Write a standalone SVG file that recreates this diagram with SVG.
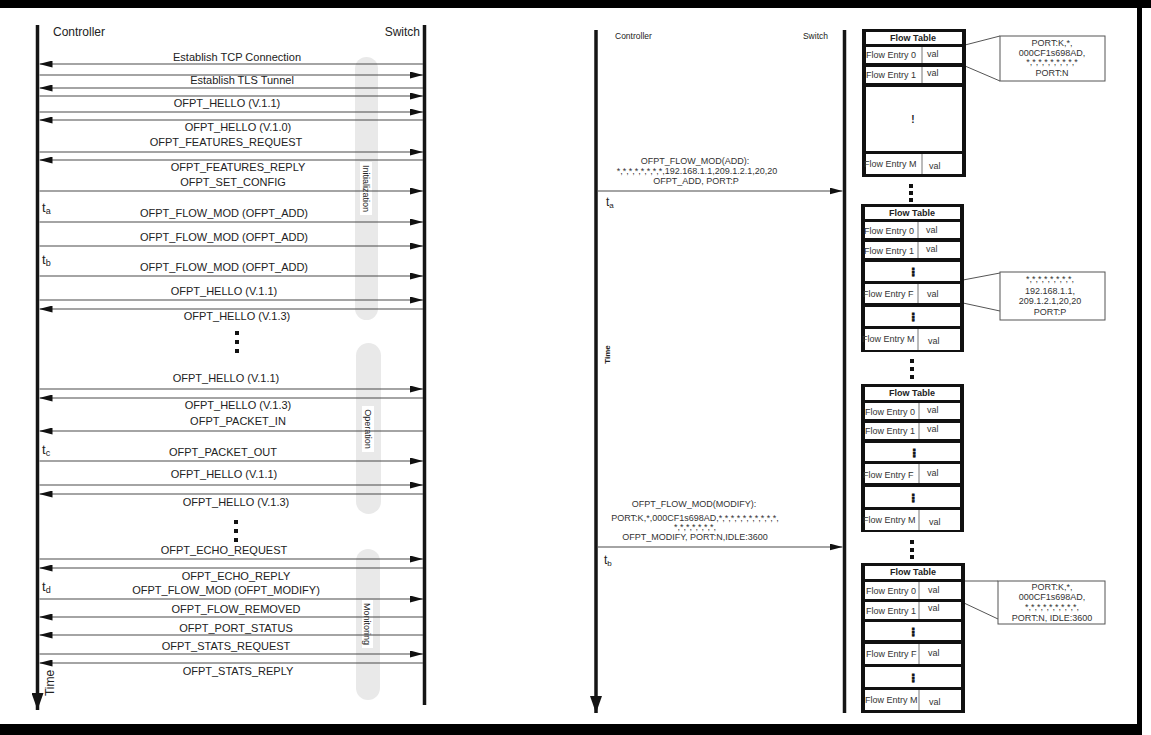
<svg xmlns="http://www.w3.org/2000/svg" width="1151" height="735" viewBox="0 0 1151 735">
<defs>
<style>
.t{font-family:"Liberation Sans",Arial,sans-serif;fill:#222}
.lbl{font-size:11px;text-anchor:middle}
.sm{font-size:9px;text-anchor:middle;fill:#333}
.ent{font-size:9px;fill:#333}
.hd{font-size:9px;font-weight:bold;text-anchor:middle}
.ph{font-size:9px;text-anchor:middle}
.el{font-family:"DejaVu Sans",sans-serif;font-size:11px;font-weight:bold;text-anchor:middle;fill:#111;stroke:#111;stroke-width:0.7}
.msg{stroke:#4a4a4a;stroke-width:1.2;fill:none}
.life{stroke:#151515;stroke-width:3.5;fill:none}
.pill{fill:#e9e9e9}
.cell{fill:#fff}
.div{stroke:#777;stroke-width:1}
.co{fill:#fff;stroke:#555;stroke-width:1}
.col{stroke:#555;stroke-width:1;fill:none}
.dot{fill:#111}
</style>
<marker id="ah" viewBox="0 0 13 7" refX="13" refY="3.5" markerWidth="13" markerHeight="7" markerUnits="userSpaceOnUse" orient="auto"><path d="M0,0 L13,3.5 L0,7 z" fill="#111"/></marker>
<marker id="ahb" viewBox="0 0 12 17" refX="6" refY="17" markerWidth="12" markerHeight="17" markerUnits="userSpaceOnUse" orient="0"><path d="M0,0 L12,0 L6,17 z" fill="#151515"/></marker>
</defs>
<rect width="1151" height="735" fill="#fff"/>
<g id="frame">
<rect x="0" y="0" width="1151" height="8" fill="#000"/>
<rect x="1137" y="0" width="5" height="735" fill="#000"/>
<rect x="0" y="724" width="1142" height="11" fill="#000"/>
</g>

<!-- LEFT PANEL -->
<g id="phases">
<rect class="pill" x="355" y="57" width="23" height="263" rx="11.5"/>
<rect x="360" y="162" width="12" height="53" fill="#fff"/>
<text class="t ph" transform="translate(366,188.5) rotate(90)" y="3">Initialization</text>
<rect class="pill" x="356" y="343" width="25" height="171" rx="12.5"/>
<rect x="362" y="406" width="12" height="46" fill="#fff"/>
<text class="t ph" transform="translate(368,429) rotate(90)" y="3">Operation</text>
<rect class="pill" x="356" y="549" width="24" height="151" rx="12"/>
<rect x="362" y="600" width="11" height="48" fill="#fff"/>
<text class="t ph" transform="translate(367,624) rotate(90)" y="3">Monitoring</text>
</g>
<g id="left-controller">
<line class="life" x1="37.5" y1="25" x2="37.5" y2="710" marker-end="url(#ahb)"/>
<text class="t" x="53" y="36" font-size="12">Controller</text>
<text class="t" transform="translate(50,683) rotate(-90)" y="4" font-size="12" text-anchor="middle">Time</text>
<text class="t" x="42" y="212" font-size="13">t<tspan font-size="9" dy="2">a</tspan></text>
<text class="t" x="42" y="264" font-size="13">t<tspan font-size="9" dy="2">b</tspan></text>
<text class="t" x="42" y="454" font-size="13">t<tspan font-size="9" dy="2">c</tspan></text>
<text class="t" x="42" y="591" font-size="13">t<tspan font-size="9" dy="2">d</tspan></text>
</g>
<g id="left-switch">
<line class="life" x1="424.5" y1="25" x2="424.5" y2="705"/>
<text class="t" x="420" y="36" font-size="12" text-anchor="end">Switch</text>
</g>
<g id="left-dots">
<rect class="dot" x="235" y="331" width="4" height="4"/>
<rect class="dot" x="235" y="340" width="4" height="4"/>
<rect class="dot" x="235" y="349" width="4" height="4"/>
<rect class="dot" x="234" y="520" width="4" height="4"/>
<rect class="dot" x="234" y="529" width="4" height="4"/>
<rect class="dot" x="234" y="538" width="4" height="4"/>
</g>
<g id="left-connectors">
<line class="msg" x1="423" y1="64" x2="39.5" y2="64" marker-end="url(#ah)"/>
<line class="msg" x1="39.5" y1="75" x2="423" y2="75" marker-end="url(#ah)"/>
<line class="msg" x1="423" y1="88" x2="39.5" y2="88" marker-end="url(#ah)"/>
<line class="msg" x1="39.5" y1="96" x2="423" y2="96" marker-end="url(#ah)"/>
<line class="msg" x1="39.5" y1="112" x2="423" y2="112" marker-end="url(#ah)"/>
<line class="msg" x1="423" y1="120" x2="39.5" y2="120" marker-end="url(#ah)"/>
<line class="msg" x1="39.5" y1="152" x2="423" y2="152" marker-end="url(#ah)"/>
<line class="msg" x1="423" y1="160" x2="39.5" y2="160" marker-end="url(#ah)"/>
<line class="msg" x1="39.5" y1="191" x2="423" y2="191" marker-end="url(#ah)"/>
<line class="msg" x1="39.5" y1="222" x2="423" y2="222" marker-end="url(#ah)"/>
<line class="msg" x1="39.5" y1="246" x2="423" y2="246" marker-end="url(#ah)"/>
<line class="msg" x1="39.5" y1="276" x2="423" y2="276" marker-end="url(#ah)"/>
<line class="msg" x1="39.5" y1="300" x2="423" y2="300" marker-end="url(#ah)"/>
<line class="msg" x1="423" y1="309" x2="39.5" y2="309" marker-end="url(#ah)"/>
<line class="msg" x1="39.5" y1="389" x2="423" y2="389" marker-end="url(#ah)"/>
<line class="msg" x1="423" y1="398" x2="39.5" y2="398" marker-end="url(#ah)"/>
<line class="msg" x1="423" y1="431" x2="39.5" y2="431" marker-end="url(#ah)"/>
<line class="msg" x1="39.5" y1="461" x2="423" y2="461" marker-end="url(#ah)"/>
<line class="msg" x1="39.5" y1="485" x2="423" y2="485" marker-end="url(#ah)"/>
<line class="msg" x1="423" y1="494" x2="39.5" y2="494" marker-end="url(#ah)"/>
<line class="msg" x1="39.5" y1="559" x2="423" y2="559" marker-end="url(#ah)"/>
<line class="msg" x1="423" y1="568" x2="39.5" y2="568" marker-end="url(#ah)"/>
<line class="msg" x1="39.5" y1="599" x2="423" y2="599" marker-end="url(#ah)"/>
<line class="msg" x1="423" y1="617" x2="39.5" y2="617" marker-end="url(#ah)"/>
<line class="msg" x1="423" y1="635" x2="39.5" y2="635" marker-end="url(#ah)"/>
<line class="msg" x1="39.5" y1="654" x2="423" y2="654" marker-end="url(#ah)"/>
<line class="msg" x1="423" y1="663" x2="39.5" y2="663" marker-end="url(#ah)"/>
</g>
<g id="left-labels">
<text class="t lbl" x="237" y="61">Establish TCP Connection</text>
<text class="t lbl" x="242" y="84">Establish TLS Tunnel</text>
<text class="t lbl" x="227" y="107">OFPT_HELLO (V.1.1)</text>
<text class="t lbl" x="238" y="131">OFPT_HELLO (V.1.0)</text>
<text class="t lbl" x="226" y="146">OFPT_FEATURES_REQUEST</text>
<text class="t lbl" x="238" y="171">OFPT_FEATURES_REPLY</text>
<text class="t lbl" x="233" y="186">OFPT_SET_CONFIG</text>
<text class="t lbl" x="224" y="217">OFPT_FLOW_MOD (OFPT_ADD)</text>
<text class="t lbl" x="224" y="241">OFPT_FLOW_MOD (OFPT_ADD)</text>
<text class="t lbl" x="224" y="271">OFPT_FLOW_MOD (OFPT_ADD)</text>
<text class="t lbl" x="224" y="295">OFPT_HELLO (V.1.1)</text>
<text class="t lbl" x="237" y="320">OFPT_HELLO (V.1.3)</text>
<text class="t lbl" x="226" y="382">OFPT_HELLO (V.1.1)</text>
<text class="t lbl" x="238" y="409">OFPT_HELLO (V.1.3)</text>
<text class="t lbl" x="238" y="425">OFPT_PACKET_IN</text>
<text class="t lbl" x="223" y="456">OFPT_PACKET_OUT</text>
<text class="t lbl" x="224" y="478">OFPT_HELLO (V.1.1)</text>
<text class="t lbl" x="236" y="506">OFPT_HELLO (V.1.3)</text>
<text class="t lbl" x="224" y="554">OFPT_ECHO_REQUEST</text>
<text class="t lbl" x="236" y="580">OFPT_ECHO_REPLY</text>
<text class="t lbl" x="226" y="594">OFPT_FLOW_MOD (OFPT_MODIFY)</text>
<text class="t lbl" x="236" y="613">OFPT_FLOW_REMOVED</text>
<text class="t lbl" x="236" y="632">OFPT_PORT_STATUS</text>
<text class="t lbl" x="226" y="650">OFPT_STATS_REQUEST</text>
<text class="t lbl" x="238" y="675">OFPT_STATS_REPLY</text>
</g>

<!-- RIGHT PANEL -->
<g id="right-controller">
<line class="life" x1="596" y1="30" x2="596" y2="713" marker-end="url(#ahb)"/>
<text class="t" x="615" y="39" font-size="8.5" fill="#333">Controller</text>
<text class="t" transform="translate(607,354.5) rotate(-90)" y="3" font-size="8" font-weight="bold" text-anchor="middle">Time</text>
<text class="t" x="606" y="206" font-size="12">t<tspan font-size="8" dy="2">a</tspan></text>
<text class="t" x="604" y="564" font-size="12">t<tspan font-size="8" dy="2">b</tspan></text>
</g>
<g id="right-switch">
<line class="life" x1="844.5" y1="30" x2="844.5" y2="713"/>
<text class="t" x="828" y="39" font-size="8.5" fill="#333" text-anchor="end">Switch</text>
</g>
<g id="right-connectors">
<line class="msg" x1="598" y1="191" x2="842.5" y2="191" marker-end="url(#ah)"/>
<line class="msg" x1="598" y1="547" x2="842.5" y2="547" marker-end="url(#ah)"/>
<line class="col" x1="965" y1="45" x2="1000" y2="36"/>
<line class="col" x1="965" y1="66" x2="1000" y2="81"/>
<line class="col" x1="963" y1="280" x2="1000" y2="273"/>
<line class="col" x1="963" y1="303" x2="1000" y2="311"/>
<line class="col" x1="964" y1="581" x2="998" y2="581"/>
<line class="col" x1="964" y1="603" x2="998" y2="619"/>
</g>
<g id="right-labels">
<text class="t sm" x="695" y="164">OFPT_FLOW_MOD(ADD):</text>
<text class="t sm" x="697" y="174">*,*,*,*,*,*,*,*,192.168.1.1,209.1.2.1,20,20</text>
<text class="t sm" x="696" y="184">OFPT_ADD, PORT:P</text>
<text class="t sm" x="694" y="507">OFPT_FLOW_MOD(MODIFY):</text>
<text class="t sm" x="695" y="521">PORT:K,*,000CF1s698AD,*,*,*,*,*,*,*,*,*,*,</text>
<text class="t sm" x="695" y="530">*,*,*,*,*,*,*,</text>
<text class="t sm" x="695" y="540">OFPT_MODIFY, PORT:N,IDLE:3600</text>
</g>

<g id="table-1">
<rect x="862" y="29" width="104" height="148" fill="#111"/>
<rect class="cell" x="866" y="32" width="96" height="12"/>
<rect class="cell" x="866" y="47" width="96" height="16"/>
<rect class="cell" x="866" y="67" width="96" height="16"/>
<rect class="cell" x="866" y="87" width="96" height="64"/>
<rect class="cell" x="866" y="154" width="96" height="20"/>
<text class="t hd" x="913" y="41">Flow Table</text>
<line class="div" x1="922" y1="47" x2="922" y2="63"/>
<line class="div" x1="922" y1="67" x2="922" y2="83"/>
<line class="div" x1="922" y1="154" x2="922" y2="174"/>
<text class="t ent" x="866" y="58">Flow Entry 0</text><text class="t ent" x="927" y="57">val</text>
<text class="t ent" x="866" y="78">Flow Entry 1</text><text class="t ent" x="927" y="76">val</text>
<text class="t" x="913" y="123" font-size="10" font-weight="bold" text-anchor="middle">!</text>
<text class="t ent" x="864" y="167">Flow Entry M</text><text class="t ent" x="929" y="169">val</text>
</g>
<g id="callout-1">
<rect class="co" x="1000" y="36" width="105" height="45"/>
<text class="t sm" x="1052" y="46">PORT:K,*,</text>
<text class="t sm" x="1052" y="56">000CF1s698AD,</text>
<text class="t sm" x="1052" y="65">*,*,*,*,*,*,*,*,*</text>
<text class="t sm" x="1052" y="76">PORT:N</text>
</g>
<g id="dots-1">
<rect class="dot" x="909" y="184" width="4" height="4"/>
<rect class="dot" x="909" y="191" width="4" height="4"/>
<rect class="dot" x="909" y="198" width="4" height="4"/>
</g>

<g id="table-2">
<rect x="861" y="204" width="103" height="148" fill="#111"/>
<rect class="cell" x="865" y="207" width="95" height="12"/>
<rect class="cell" x="865" y="222" width="95" height="16"/>
<rect class="cell" x="865" y="242" width="95" height="16"/>
<rect class="cell" x="865" y="262" width="95" height="19"/>
<rect class="cell" x="865" y="284" width="95" height="19"/>
<rect class="cell" x="865" y="307" width="95" height="19"/>
<rect class="cell" x="865" y="329" width="95" height="21"/>
<text class="t hd" x="912" y="216">Flow Table</text>
<line class="div" x1="918" y1="222" x2="918" y2="238"/>
<line class="div" x1="918" y1="242" x2="918" y2="258"/>
<line class="div" x1="918" y1="284" x2="918" y2="303"/>
<line class="div" x1="918" y1="329" x2="918" y2="350"/>
<text class="t ent" x="864" y="234">Flow Entry 0</text><text class="t ent" x="926" y="233">val</text>
<text class="t ent" x="864" y="254">Flow Entry 1</text><text class="t ent" x="926" y="252">val</text>
<text class="el" x="913" y="276">⋮</text>
<text class="t ent" x="863" y="297">Flow Entry F</text><text class="t ent" x="927" y="297">val</text>
<text class="el" x="913" y="321">⋮</text>
<text class="t ent" x="862" y="342">Flow Entry M</text><text class="t ent" x="928" y="344">val</text>
</g>
<g id="callout-2">
<rect class="co" x="1000" y="272" width="105" height="48"/>
<text class="t sm" x="1050" y="282">*,*,*,*,*,*,*,*,</text>
<text class="t sm" x="1050" y="294">192.168.1.1,</text>
<text class="t sm" x="1050" y="304">209.1.2.1,20,20</text>
<text class="t sm" x="1050" y="315">PORT:P</text>
</g>
<g id="dots-2">
<rect class="dot" x="910" y="359" width="4" height="4"/>
<rect class="dot" x="910" y="367" width="4" height="4"/>
<rect class="dot" x="910" y="375" width="4" height="4"/>
</g>

<g id="table-3">
<rect x="861" y="384" width="103" height="148" fill="#111"/>
<rect class="cell" x="865" y="387" width="95" height="13"/>
<rect class="cell" x="865" y="403" width="95" height="16"/>
<rect class="cell" x="865" y="423" width="95" height="16"/>
<rect class="cell" x="865" y="443" width="95" height="18"/>
<rect class="cell" x="865" y="464" width="95" height="19"/>
<rect class="cell" x="865" y="487" width="95" height="20"/>
<rect class="cell" x="865" y="510" width="95" height="20"/>
<text class="t hd" x="912" y="396">Flow Table</text>
<line class="div" x1="919" y1="403" x2="919" y2="419"/>
<line class="div" x1="919" y1="423" x2="919" y2="439"/>
<line class="div" x1="919" y1="464" x2="919" y2="483"/>
<line class="div" x1="919" y1="510" x2="919" y2="530"/>
<text class="t ent" x="865" y="415">Flow Entry 0</text><text class="t ent" x="927" y="413">val</text>
<text class="t ent" x="865" y="434">Flow Entry 1</text><text class="t ent" x="927" y="432">val</text>
<text class="el" x="914" y="457">⋮</text>
<text class="t ent" x="863" y="478">Flow Entry F</text><text class="t ent" x="927" y="476">val</text>
<text class="el" x="913" y="502">⋮</text>
<text class="t ent" x="863" y="523">Flow Entry M</text><text class="t ent" x="929" y="525">val</text>
</g>
<g id="dots-3">
<rect class="dot" x="910" y="540" width="4" height="4"/>
<rect class="dot" x="910" y="548" width="4" height="4"/>
<rect class="dot" x="910" y="555" width="4" height="4"/>
</g>

<g id="table-4">
<rect x="861" y="563" width="104" height="150" fill="#111"/>
<rect class="cell" x="865" y="566" width="96" height="13"/>
<rect class="cell" x="865" y="582" width="96" height="17"/>
<rect class="cell" x="865" y="602" width="96" height="17"/>
<rect class="cell" x="865" y="622" width="96" height="18"/>
<rect class="cell" x="865" y="644" width="96" height="20"/>
<rect class="cell" x="865" y="667" width="96" height="20"/>
<rect class="cell" x="865" y="690" width="96" height="20"/>
<text class="t hd" x="913" y="575">Flow Table</text>
<line class="div" x1="919" y1="582" x2="919" y2="599"/>
<line class="div" x1="919" y1="602" x2="919" y2="619"/>
<line class="div" x1="919" y1="644" x2="919" y2="664"/>
<line class="div" x1="919" y1="690" x2="919" y2="710"/>
<text class="t ent" x="866" y="594">Flow Entry 0</text><text class="t ent" x="928" y="593">val</text>
<text class="t ent" x="866" y="614">Flow Entry 1</text><text class="t ent" x="928" y="611">val</text>
<text class="el" x="913" y="636">⋮</text>
<text class="t ent" x="866" y="657">Flow Entry F</text><text class="t ent" x="928" y="656">val</text>
<text class="el" x="913" y="682">⋮</text>
<text class="t ent" x="865" y="703">Flow Entry M</text><text class="t ent" x="929" y="705">val</text>
</g>
<g id="callout-4">
<rect class="co" x="998" y="581" width="107" height="43"/>
<text class="t sm" x="1052" y="590">PORT:K,*,</text>
<text class="t sm" x="1052" y="600">000CF1s698AD,</text>
<text class="t sm" x="1052" y="610">*,*,*,*,*,*,*,*,*,</text>
<text class="t sm" x="1052" y="621">PORT:N, IDLE:3600</text>
</g>
</svg>
